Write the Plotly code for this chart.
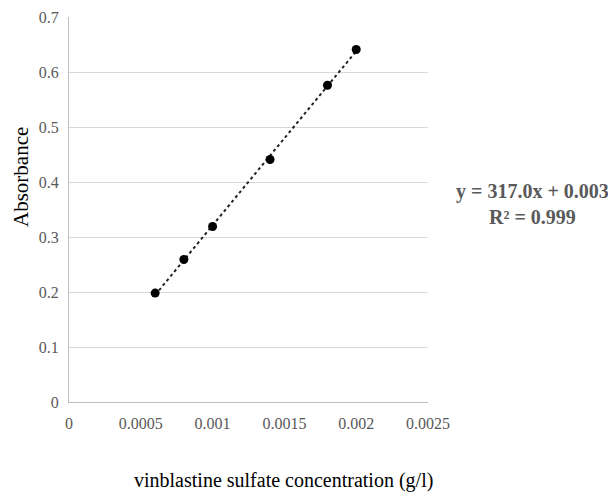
import numpy as np
import plotly.graph_objects as go

concentration = [0.0006, 0.0008, 0.0010, 0.0014, 0.0018, 0.0020]
absorbance = [0.198, 0.259, 0.319, 0.441, 0.576, 0.641]
x_ticks = [0, 0.0005, 0.001, 0.0015, 0.002, 0.0025]
x_tick_labels = ["0", "0.0005", "0.001", "0.0015", "0.002", "0.0025"]
y_ticks = [0, 0.1, 0.2, 0.3, 0.4, 0.5, 0.6, 0.7]
y_tick_labels = ["0", "0.1", "0.2", "0.3", "0.4", "0.5", "0.6", "0.7"]
equation_text = "y = 317.0x + 0.003"
r2_text = "R² = 0.999"

# linear trendline fitted to the data
slope, intercept = np.polyfit(concentration, absorbance, 1)
trend_x = [min(concentration), max(concentration)]
trend_y = [slope * v + intercept for v in trend_x]

font_family = "Liberation Serif, Times New Roman, serif"

# page has ~8px body margin; compensate
OX, OY = 8, 8
W, H = 616 - OX, 492 - OY
PLOT_L, PLOT_R, PLOT_T, PLOT_B = 69, 428, 17, 402
PW, PH = PLOT_R - PLOT_L, PLOT_B - PLOT_T
L, T = PLOT_L - OX, PLOT_T - OY
R = W - L - PW
B = H - T - PH

def px(xp):
    return (xp - PLOT_L) / PW

def py(yp):
    return (PLOT_B - yp) / PH

fig = go.Figure()
fig.add_trace(go.Scatter(
    x=trend_x, y=trend_y, mode="lines",
    line=dict(color="#222222", width=2, dash="dot"),
    hoverinfo="skip", showlegend=False,
))
fig.add_trace(go.Scatter(
    x=concentration, y=absorbance, mode="markers",
    marker=dict(color="#000000", size=9),
    showlegend=False,
))

fig.update_layout(
    width=W, height=H,
    margin=dict(l=L, r=R, t=T, b=B, autoexpand=False),
    paper_bgcolor="white", plot_bgcolor="white",
    font=dict(family=font_family, size=16, color="#595959"),
    xaxis=dict(
        range=[0, 0.0025], tickvals=x_ticks, ticktext=x_tick_labels,
        showgrid=False, zeroline=False, showline=True,
        linecolor="#bfbfbf", linewidth=1, ticks="", ticklen=0,
        ticklabelstandoff=7,
        tickfont=dict(size=16, color="#595959"), automargin=False,
    ),
    yaxis=dict(
        range=[0, 0.7], tickvals=y_ticks, ticktext=y_tick_labels,
        showgrid=True, gridcolor="#d9d9d9", gridwidth=1,
        zeroline=False, showline=True, linecolor="#bfbfbf", linewidth=1,
        ticks="", ticklabelstandoff=6,
        tickfont=dict(size=16, color="#595959"), automargin=False,
    ),
    annotations=[
        dict(text="Absorbance", xref="paper", yref="paper",
             x=px(21), y=py(177),
             xanchor="center", yanchor="middle", textangle=-90,
             showarrow=False, font=dict(size=21, color="#000000", family=font_family)),
        dict(text="vinblastine sulfate concentration (g/l)", xref="paper", yref="paper",
             x=px(283), y=py(480),
             xanchor="center", yanchor="middle",
             showarrow=False, font=dict(size=20, color="#000000", family=font_family)),
        dict(text="<b>" + equation_text + "</b><br><b>" + r2_text + "</b>",
             xref="paper", yref="paper",
             x=px(532), y=py(204),
             xanchor="center", yanchor="middle", align="center",
             showarrow=False, font=dict(size=20, color="#595959", family=font_family)),
    ],
)

fig.write_html("out.html")
